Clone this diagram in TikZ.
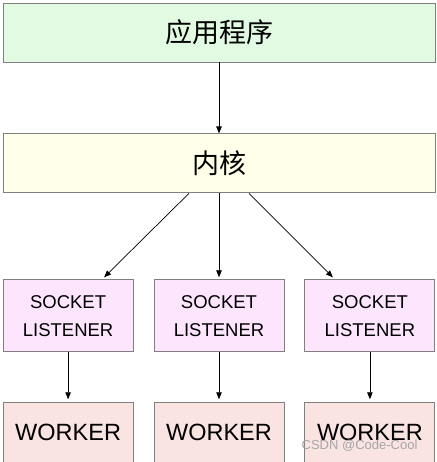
\documentclass[tikz,border=0pt]{standalone}
\usepackage{fontspec}
\setmainfont{Liberation Sans}
\newfontfamily\cjk{Noto Sans CJK SC}
\usepackage{tikz}
\usetikzlibrary{positioning}
\usetikzlibrary{arrows.meta}

\definecolor{appfill}{RGB}{225,250,225}
\definecolor{kernfill}{RGB}{255,255,234}
\definecolor{sockfill}{RGB}{253,229,254}
\definecolor{workfill}{RGB}{250,228,226}
\definecolor{edgegray}{RGB}{128,128,128}

\tikzset{
    box/.style={draw=edgegray, line width=0.9pt, inner sep=0pt, align=center},
    wide/.style={box, minimum width=432pt, minimum height=59pt, font=\cjk\fontsize{27}{30}\selectfont},
    sock/.style={box, fill=sockfill, minimum width=130pt, minimum height=72pt, font=\fontsize{18.5}{28}\selectfont},
    work/.style={box, fill=workfill, minimum width=130pt, minimum height=60pt, font=\fontsize{23.5}{26}\selectfont},
    arr/.style={-{Triangle[length=7pt,width=5.5pt]}, line width=0.7pt}
}

\begin{document}
\begin{tikzpicture}[node distance=20pt]
                \useasboundingbox (0,0) rectangle (436pt,-462pt);
                \node(app) [wide, fill=appfill] at (219pt,-32.5pt) {应用程序};
                \node(kern) [wide, fill=kernfill, below=71pt of app] {内核};
            
                \node(sockm) [sock, below=86pt of kern] {SOCKET\\LISTENER};
                \node(sockl) [sock, left=of sockm] {SOCKET\\LISTENER};
                \node(sockr) [sock, right=of sockm] {SOCKET\\LISTENER};
            
                \node(workl) [work, below=50pt of sockl] {WORKER};
                \node(workm) [work, below=50pt of sockm] {WORKER};
                \node(workr) [work, below=50pt of sockr] {WORKER};
            
                \draw[arr] (app) -- (kern);
                \draw[arr] ([xshift=-30pt] kern.south) -- ([xshift=36pt,yshift=2pt] sockl.north);
                \draw[arr] (kern) -- ([yshift=2pt] sockm.north);
                \draw[arr] ([xshift=30pt] kern.south) -- ([xshift=-37pt,yshift=2pt] sockr.north);
                \foreach \s/\w in {sockl/workl, sockm/workm, sockr/workr}
                    \draw[arr] (\s) -- ([yshift=3pt] \w.north);
            
                \node(mark) [text=gray!70, font=\fontsize{13}{15}\selectfont, anchor=east] at (421pt,-446pt) {CSDN @Code-Cool};
            \end{tikzpicture}
\end{document}
